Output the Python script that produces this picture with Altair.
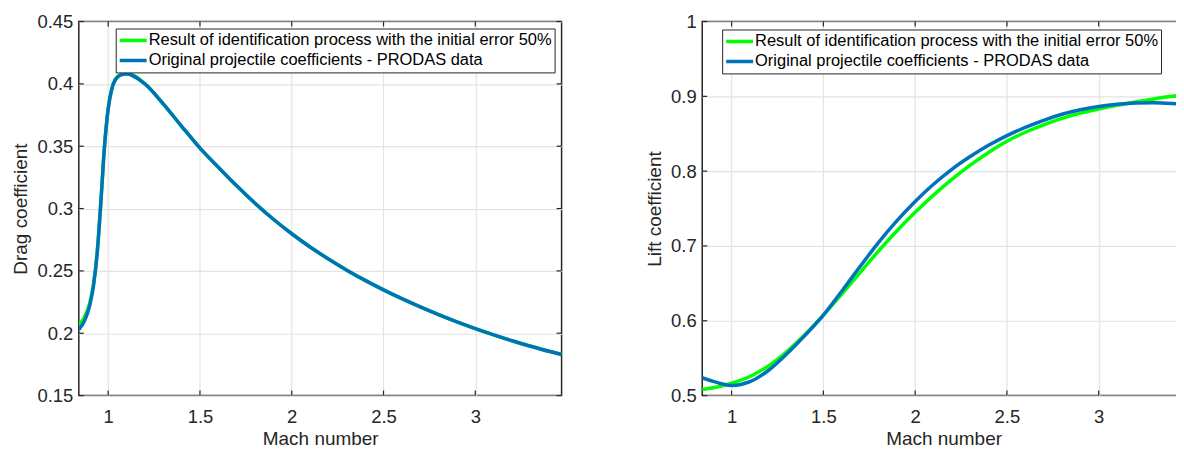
import altair as alt
import pandas as pd

# ---- data ----
series_names = [
    "Result of identification process with the initial error 50%",
    "Original projectile coefficients - PRODAS data",
]
series_colors = ["#00FF00", "#0072BD"]

mach_drag = [0.84, 0.87, 0.90, 0.92, 0.94, 0.96, 0.98, 1.00, 1.02, 1.04, 1.07, 1.10,
             1.20, 1.30, 1.40, 1.50, 1.60, 1.70, 1.80, 1.90, 2.00, 2.10, 2.20, 2.30,
             2.40, 2.50, 2.60, 2.70, 2.80, 2.90, 3.00, 3.10, 3.20, 3.30, 3.40, 3.47]
cd_result = [0.207, 0.2125, 0.2245, 0.2395, 0.265, 0.305, 0.350, 0.380, 0.3965, 0.404, 0.4077, 0.4085,
             0.400, 0.384, 0.366, 0.3485, 0.3332, 0.3182, 0.3042, 0.2914, 0.2798, 0.2692, 0.2595, 0.2506,
             0.2424, 0.2348, 0.2277, 0.2211, 0.2149, 0.2091, 0.2037, 0.1987, 0.1940, 0.1896, 0.1855, 0.1830]
cd_prodas = [0.203, 0.2095, 0.2225, 0.238, 0.264, 0.305, 0.350, 0.380, 0.396, 0.4035, 0.4072, 0.408,
             0.400, 0.384, 0.366, 0.3485, 0.3332, 0.3182, 0.3042, 0.2914, 0.2798, 0.2692, 0.2595, 0.2506,
             0.2424, 0.2348, 0.2277, 0.2211, 0.2149, 0.2091, 0.2037, 0.1987, 0.1940, 0.1896, 0.1855, 0.1830]

mach_lift = [0.84, 0.90, 0.95, 1.00, 1.10, 1.20, 1.30, 1.40, 1.50, 1.60, 1.70, 1.80, 1.90, 2.00,
             2.10, 2.20, 2.30, 2.40, 2.50, 2.60, 2.70, 2.80, 2.90, 3.00, 3.10, 3.20, 3.30, 3.40, 3.47]
cl_result = [0.508, 0.5105, 0.513, 0.5165, 0.5255, 0.5395, 0.5585, 0.5815, 0.6075, 0.6355, 0.6645, 0.693,
             0.720, 0.745, 0.768, 0.789, 0.808, 0.825, 0.840, 0.852, 0.862, 0.8705, 0.8775, 0.883,
             0.888, 0.8925, 0.8965, 0.900, 0.902]
cl_prodas = [0.524, 0.519, 0.5155, 0.5135, 0.5185, 0.5335, 0.5555, 0.5805, 0.6075, 0.6395, 0.6725, 0.7045,
             0.7335, 0.7595, 0.7825, 0.8025, 0.8195, 0.8345, 0.8475, 0.8585, 0.868, 0.876, 0.882, 0.8865,
             0.8895, 0.891, 0.8913, 0.8903, 0.889]

mach_ticks = [1, 1.5, 2, 2.5, 3]
drag_ticks = [0.15, 0.2, 0.25, 0.3, 0.35, 0.4, 0.45]
lift_ticks = [0.5, 0.6, 0.7, 0.8, 0.9, 1.0]
mach_domain = [0.84, 3.47]

W, H = 484, 375
INK = "#262626"
FONT = "Liberation Sans"


def make_panel(mach, res, orig, yticks, ydom, ytitle, yfmt, lx, ly):
    n = len(mach)
    df = pd.DataFrame({
        "mach": list(mach) * 2,
        "value": list(res) + list(orig),
        "series": [series_names[0]] * n + [series_names[1]] * n,
    })
    xsc = alt.Scale(domain=mach_domain, nice=False, zero=False)
    ysc = alt.Scale(domain=ydom, nice=False, zero=False)
    xax = alt.Axis(values=mach_ticks, format=".1~f", title="Mach number")
    yax = alt.Axis(values=yticks, format=yfmt, title=ytitle)
    x_enc = alt.X("mach:Q", scale=xsc, axis=xax)
    y_enc = alt.Y("value:Q", scale=ysc, axis=yax)
    color = alt.Color(
        "series:N",
        scale=alt.Scale(domain=series_names, range=series_colors),
        legend=alt.Legend(
            title=None, orient="none", legendX=lx, legendY=ly,
            symbolType="stroke", symbolSize=729, symbolStrokeWidth=3.5,
            labelFont=FONT, labelFontSize=16.5, labelColor="#000000",
            labelLimit=0, labelOffset=0, padding=2, rowPadding=0, clipHeight=20,
            strokeColor=INK, fillColor="white",
        ),
    )
    lines = []
    for name in series_names:
        lines.append(
            alt.Chart(df).transform_filter(alt.datum.series == name)
            .mark_line(strokeWidth=3.5, interpolate="monotone", clip=True)
            .encode(x=x_enc, y=y_enc, color=color)
        )
    xt = pd.DataFrame({"mach": mach_ticks})
    yt = pd.DataFrame({"value": yticks})
    tk = dict(color=INK, strokeWidth=1.2)
    ticks = [
        alt.Chart(xt).mark_rule(**tk).encode(x=x_enc, y=alt.value(H), y2=alt.value(H - 5)),
        alt.Chart(xt).mark_rule(**tk).encode(x=x_enc, y=alt.value(0), y2=alt.value(5)),
        alt.Chart(yt).mark_rule(**tk).encode(y=y_enc, x=alt.value(0), x2=alt.value(5)),
        alt.Chart(yt).mark_rule(**tk).encode(y=y_enc, x=alt.value(W), x2=alt.value(W - 5)),
    ]
    return alt.layer(*ticks, *lines).properties(width=W, height=H)


left = make_panel(mach_drag, cd_result, cd_prodas, drag_ticks, [0.15, 0.45],
                  "Drag coefficient", ".2~f", 37, 7)
right = make_panel(mach_lift, cl_result, cl_prodas, lift_ticks, [0.5, 1.0],
                   "Lift coefficient", ".1~f", 20, 8)

chart = (
    alt.hconcat(left, right, spacing=81)
    .resolve_legend(color="independent")
    .properties(padding={"left": 3, "top": 3, "right": -11, "bottom": 0}, background="white")
    .configure_view(stroke=INK, strokeWidth=1.5)
    .configure_axis(
        domain=False, ticks=False, grid=True, gridColor="#e3e3e3", gridWidth=1.2,
        labelFont=FONT, labelFontSize=18.5, labelColor=INK,
        titleFont=FONT, titleFontSize=19, titleFontWeight="normal", titleColor=INK,
    )
    .configure_axisX(labelPadding=12, titlePadding=4)
    .configure_axisY(labelPadding=6, titlePadding=6)
)

chart.save("out.html", embed_options={"renderer": "svg", "actions": False})
